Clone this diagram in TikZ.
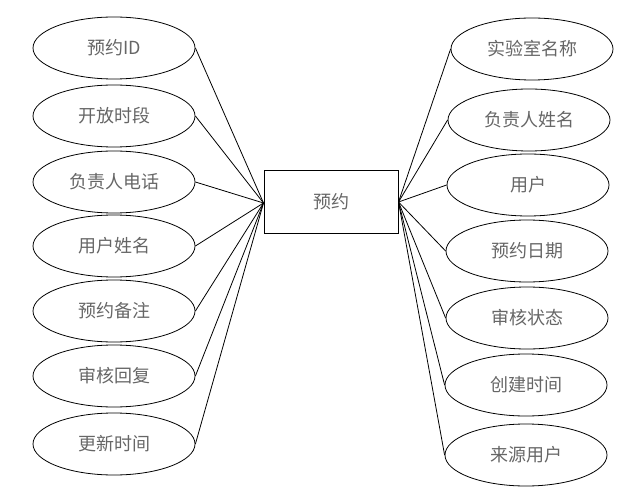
\documentclass[tikz,border=0pt]{standalone}
\usepackage{fontspec}
\newfontfamily\cjk{Noto Sans CJK SC}
\usetikzlibrary{shapes.geometric}
\begin{document}
\begin{tikzpicture}[x=1bp,y=-1bp,
  attr/.style={ellipse,draw,line width=0.8bp,minimum width=162bp,minimum height=62bp,inner sep=0pt,
    font=\cjk\fontsize{18bp}{20bp}\selectfont,text=black!60},
  ent/.style={rectangle,draw,line width=1bp,minimum width=134bp,minimum height=62bp,inner sep=0pt,
    font=\cjk\fontsize{18bp}{20bp}\selectfont,text=black!60},
  link/.style={line width=0.8bp}]
\useasboundingbox (0,0) rectangle (633,493);
\node[ent] (e) at (331,202) {预约};
\node[attr] (l1) at (114,48) {预约ID};
\node[attr] (l2) at (114,116) {开放时段};
\node[attr] (l3) at (114,182) {负责人电话};
\node[attr] (l4) at (114,246) {用户姓名};
\node[attr] (l5) at (114,311) {预约备注};
\node[attr] (l6) at (114,376) {审核回复};
\node[attr] (l7) at (114,444) {更新时间};
\node[attr] (r1) at (532,49) {实验室名称};
\node[attr] (r2) at (529,120) {负责人姓名};
\node[attr] (r3) at (528,185) {用户};
\node[attr] (r4) at (527,251) {预约日期};
\node[attr] (r5) at (527,318) {审核状态};
\node[attr] (r6) at (526,385) {创建时间};
\node[attr] (r7) at (526,455) {来源用户};
\foreach \i in {1,...,7} {
  \draw[link] (l\i.east) -- ([yshift=-1bp]e.west);
  \draw[link] (e.east) -- (r\i.west);
}
\end{tikzpicture}
\end{document}
